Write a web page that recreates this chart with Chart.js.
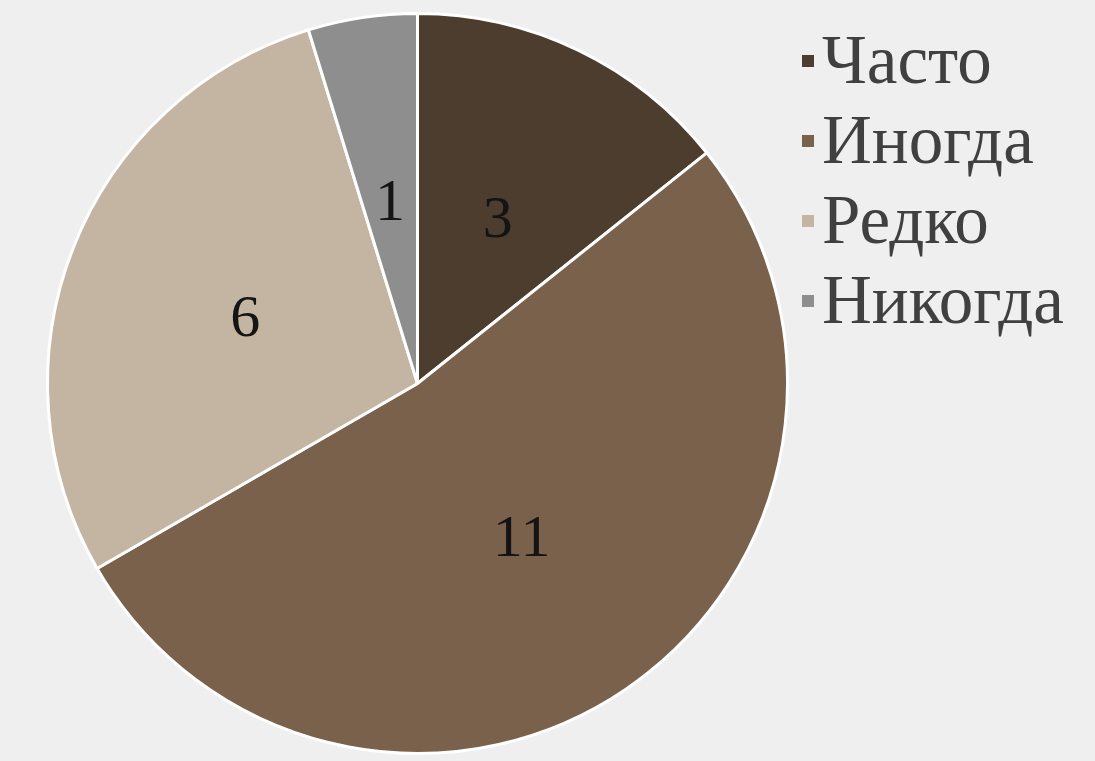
<!DOCTYPE html>
<html>
<head>
<meta charset="utf-8">
<script src="https://cdn.jsdelivr.net/npm/chart.js@4"></script>
<style>
    html, body { margin: 0; padding: 0; background: #efefef; }
    #wrap { position: relative; width: 1095px; height: 761px; }
    #legend { position: absolute; left: 802px; top: 20px; font-family: "Liberation Serif", "Times New Roman", serif; font-size: 69px; color: #404040; }
    .row { position: relative; height: 80px; line-height: 80px; padding-left: 20px; white-space: nowrap; }
    .box { position: absolute; left: 0; top: 35px; width: 12px; height: 12px; }
</style>
</head>
<body>
<div id="wrap">
    <canvas id="pieChart" width="1095" height="761"></canvas>
    <div id="legend"></div>
</div>
<script>
// Daten
const labels = ["Часто", "Иногда", "Редко", "Никогда"];
const values = [3, 11, 6, 1];
const colors = ["#4c3d2e", "#7a614b", "#c4b5a3", "#8e8e8e"];

// Zahlen in die Mitte der Segmente schreiben
const sliceLabels = {
    id: "sliceLabels",
    afterDatasetsDraw(chart) {
        const ctx = chart.ctx;
        const meta = chart.getDatasetMeta(0);
        ctx.save();
        ctx.font = "60px 'Liberation Serif', 'Times New Roman', serif";
        ctx.fillStyle = "#141414";
        ctx.textAlign = "center";
        ctx.textBaseline = "middle";
        meta.data.forEach((arc, i) => {
            const p = arc.getCenterPoint();
            ctx.fillText(String(chart.data.datasets[0].data[i]), p.x, p.y + 4);
        });
        ctx.restore();
    }
};

function buildLegend() {
    const legend = document.getElementById("legend");
    labels.forEach((label, i) => {
        const row = document.createElement("div");
        row.className = "row";
        const box = document.createElement("span");
        box.className = "box";
        box.style.background = colors[i];
        row.appendChild(box);
        row.appendChild(document.createTextNode(label));
        legend.appendChild(row);
    });
}

const canvas = document.getElementById("pieChart");
new Chart(canvas.getContext("2d"), {
    type: "pie",
    data: {
        labels: labels,
        datasets: [{
            data: values,
            backgroundColor: colors,
            borderColor: "#ffffff",
            borderWidth: 3
        }]
    },
    options: {
        responsive: false,
        animation: false,
        layout: { padding: { left: 45, top: 12, right: 305, bottom: 6 } },
        plugins: {
            legend: { display: false },
            tooltip: { enabled: false }
        }
    },
    plugins: [sliceLabels]
});

buildLegend();
</script>
</body>
</html>
